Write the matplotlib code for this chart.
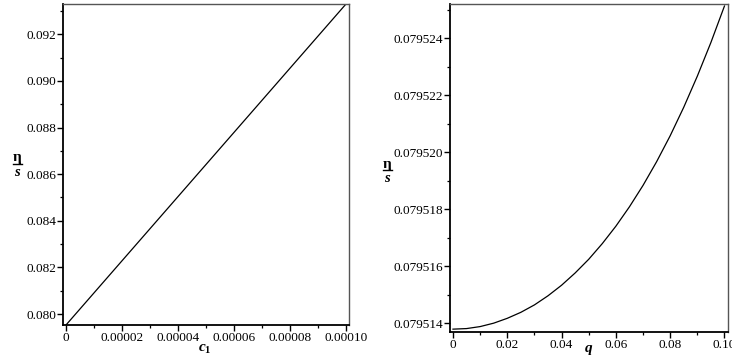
import matplotlib
matplotlib.use("Agg")
import matplotlib.pyplot as plt
from matplotlib.ticker import MultipleLocator, FixedLocator, FuncFormatter
from matplotlib.lines import Line2D

plt.rcParams['font.family'] = ['Liberation Serif', 'DejaVu Serif']
plt.rcParams['mathtext.fontset'] = 'custom'
plt.rcParams['mathtext.it'] = 'Liberation Serif:italic:bold'
plt.rcParams['mathtext.rm'] = 'Liberation Serif:bold'
plt.rcParams['mathtext.bf'] = 'Liberation Serif:bold'

# ---- data ----
c1_values = [0.0, 0.0001]
eta_s_c1 = [0.07953, 0.0933]

q_values = [0.0, 0.005, 0.01, 0.015, 0.02, 0.025, 0.03, 0.035, 0.04, 0.045, 0.05,
            0.055, 0.06, 0.065, 0.07, 0.075, 0.08, 0.085, 0.09, 0.095, 0.1]
eta_s_q = [0.07951380, 0.07951382, 0.07951389, 0.07951401, 0.07951418, 0.07951439,
           0.07951465, 0.07951497, 0.07951534, 0.07951577, 0.07951625, 0.07951680,
           0.07951741, 0.07951809, 0.07951884, 0.07951967, 0.07952058, 0.07952158,
           0.07952267, 0.07952385, 0.07952513]

left_xticks = [0, 0.00002, 0.00004, 0.00006, 0.00008, 0.00010]
left_xticklabels = ['0', '0.00002', '0.00004', '0.00006', '0.00008', '0.00010']
left_yticks = [0.080, 0.082, 0.084, 0.086, 0.088, 0.090, 0.092]
left_yticklabels = ['0.080', '0.082', '0.084', '0.086', '0.088', '0.090', '0.092']

right_xticks = [0, 0.02, 0.04, 0.06, 0.08, 0.10]
right_xticklabels = ['0', '0.02', '0.04', '0.06', '0.08', '0.10']
right_yticks = [0.079514, 0.079516, 0.079518, 0.079520, 0.079522, 0.079524]
right_yticklabels = ['0.079514', '0.079516', '0.079518', '0.079520', '0.079522', '0.079524']

W, H = 732, 364
fig = plt.figure(figsize=(W / 100, H / 100), dpi=100)


def px_axes(x0, y0, x1, y1):
    return fig.add_axes([x0 / W, (H - y1) / H, (x1 - x0) / W, (y1 - y0) / H])


def style(ax):
    for s in ['left', 'bottom']:
        ax.spines[s].set_color('black')
        ax.spines[s].set_linewidth(1.3)
    for s in ['top', 'right']:
        ax.spines[s].set_color('#555555')
        ax.spines[s].set_linewidth(1.0)
    ax.tick_params(which='major', direction='out', length=4, width=1.0, pad=1,
                   labelsize=9.5, colors='black')
    ax.tick_params(which='minor', direction='out', length=2.5, width=0.9)
    ax.tick_params(top=False, right=False, which='both')


ax1 = px_axes(63, 4, 349, 325)
ax1.plot(c1_values, eta_s_c1, color='black', lw=0.9)
ax1.set_xlim(-1.07e-6, 1.0107e-4)
ax1.set_ylim(0.07953, 0.0933)
ax1.set_xticks(left_xticks)
ax1.set_xticklabels(left_xticklabels)
ax1.set_yticks(left_yticks)
ax1.set_yticklabels(left_yticklabels)
ax1.xaxis.set_minor_locator(MultipleLocator(0.00001))
ax1.yaxis.set_minor_locator(MultipleLocator(0.001))
style(ax1)

ax2 = px_axes(450, 4, 728, 332)
ax2.plot(q_values, eta_s_q, color='black', lw=0.9)
ax2.set_xlim(-0.0011, 0.1013)
ax2.set_ylim(0.0795137, 0.0795252)
ax2.set_xticks(right_xticks)
ax2.set_xticklabels(right_xticklabels)
ax2.set_yticks(right_yticks)
ax2.set_yticklabels(right_yticklabels)
ax2.xaxis.set_minor_locator(MultipleLocator(0.01))
ax2.yaxis.set_minor_locator(MultipleLocator(0.000001))
style(ax2)

# x labels
fig.text(205 / W, 1 - 349 / H, r'$c_{1}$', ha='center', va='center', fontsize=11)
fig.text(589 / W, 1 - 350 / H, r'$q$', ha='center', va='center', fontsize=11)


def frac_label(xc, y_eta, y_bar, y_s):
    fig.text(xc / W, 1 - y_eta / H, 'η', ha='center', va='center', fontsize=11,
             fontweight='bold', family=['Liberation Serif', 'DejaVu Serif'])
    fig.add_artist(Line2D([(xc - 4.5) / W, (xc + 4.5) / W], [1 - y_bar / H, 1 - y_bar / H],
                          color='black', lw=1.0, transform=fig.transFigure))
    fig.text(xc / W, 1 - y_s / H, 's', ha='center', va='center', fontsize=10.5,
             fontweight='bold', style='italic', family=['Liberation Serif', 'DejaVu Serif'])


frac_label(17, 158, 164, 173)
frac_label(387, 165, 170, 178)

fig.savefig('out.png', dpi=100)
